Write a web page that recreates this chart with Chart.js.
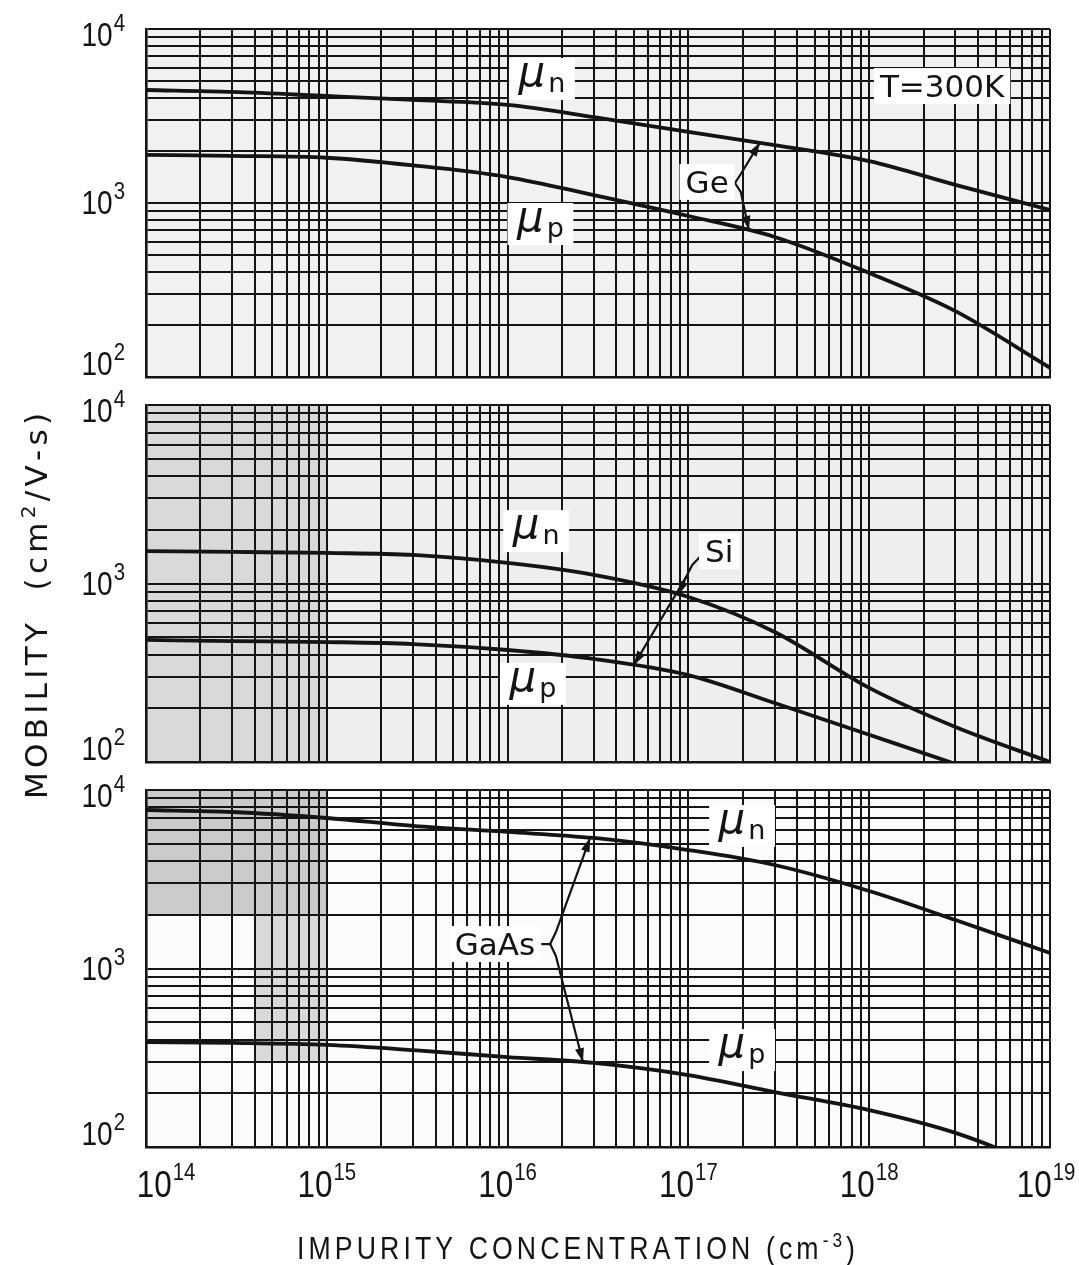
<!DOCTYPE html>
<html>
<head>
<meta charset="utf-8">
<script src="https://cdn.jsdelivr.net/npm/chart.js@4.4.1/dist/chart.umd.min.js"></script>
<style>
html,body{margin:0;padding:0;background:#ffffff;}
#wrap{position:relative;width:1079px;height:1265px;overflow:hidden;background:#ffffff;}
#wrap canvas{position:absolute;left:0;top:0;}
</style>
</head>
<body>
<div id="wrap">
<canvas id="c1" width="1079" height="1265"></canvas>
<canvas id="c2" width="1079" height="1265"></canvas>
<canvas id="c3" width="1079" height="1265"></canvas>
</div>
<script>
// ---------------- DATA ----------------
const concentration = [1e14, 3e14, 1e15, 3e15, 1e16, 3e16, 1e17, 3e17, 1e18, 3e18, 1e19];
const geMuN   = [4460, 4350, 4120, 3910, 3660, 3120, 2560, 2150, 1740, 1270, 912];
const geMuP   = [1890, 1865, 1820, 1645, 1410, 1110, 842, 638, 396, 239, 113];
const siMuN   = [1520, 1502, 1483, 1445, 1303, 1116, 840, 535, 260, 157, 100];
const siMuP   = [483, 476, 470, 458, 424, 378, 307, 214, 142, 97.5, 64];
const gaasMuN = [7727, 7530, 6970, 6290, 5820, 5385, 4610, 3800, 2718, 1870, 1222];
const gaasMuP = [387, 383, 373, 349, 319, 296, 253, 203, 161, 120, 75];

const xTickExponents = [14, 15, 16, 17, 18, 19];
const yTickExponents = [2, 3, 4];
const gridMantissas  = [1, 2, 3, 4, 5, 6, 7, 8, 9];

const yAxisTitle = ['MOBILITY  (cm', '2', '/V-s)'];
const xAxisTitle = ['IMPURITY CONCENTRATION (cm', '-3', ')'];

// annotation anchors (data units)
const geLabels = [
  {kind:'mu', sub:'n', x:1.55e16, y:5160},
  {kind:'mu', sub:'p', x:1.52e16, y:757},
  {kind:'text', text:'Ge', x:1.27e17, y:1322},
  {kind:'text', text:'T=300K', x:2.53e18, y:4700}
];
const geArrows = [
  {pts:[[1.81e17,1303],[1.95e17,1468],[2.49e17,2230]], head:true},
  {pts:[[1.81e17,1303],[1.95e17,1156],[2.16e17,700]], head:true}
];
const siLabels = [
  {kind:'mu', sub:'n', x:1.44e16, y:1966},
  {kind:'mu', sub:'p', x:1.38e16, y:274},
  {kind:'text', text:'Si', x:1.48e17, y:1520}
];
const siArrows = [
  {pts:[[1.17e17,1426],[1.05e17,1270],[9.71e16,1087]], head:false},
  {pts:[[9.71e16,1087],[8.77e16,865]], head:true},
  {pts:[[9.71e16,1087],[5.0e16,350]], head:true}
];
const gaasLabels = [
  {kind:'mu', sub:'n', x:1.98e17, y:6290},
  {kind:'mu', sub:'p', x:1.98e17, y:349},
  {kind:'text', text:'GaAs', x:8.5e15, y:1371}
];
const gaasArrows = [
  {pts:[[1.55e16,1371],[1.72e16,1371]], head:false},
  {pts:[[1.72e16,1371],[1.85e16,1601],[2.86e16,5400]], head:true},
  {pts:[[1.72e16,1371],[1.85e16,1175],[2.61e16,299]], head:true}
];

// ---------------- STYLE / LAYOUT ----------------
const W = 1079, H = 1265;
const PLOT_LEFT = 146, PLOT_RIGHT = 1050;
const TICK_FONT = '"Liberation Sans", Arial, sans-serif';
const LABEL_FONT = '"DejaVu Sans", "Liberation Sans", sans-serif';
const INK = '#141414';
const CONDENSE = 0.85;

function logGrid(exps) {
  const v = [];
  for (let i = 0; i < exps.length - 1; i++) {
    for (const m of gridMantissas) v.push(m * Math.pow(10, exps[i]));
  }
  v.push(Math.pow(10, exps[exps.length - 1]));
  return v;
}
const xGrid = logGrid(xTickExponents);
const yGrid = logGrid(yTickExponents);

function fillCondensed(ctx, text, x, y, sx) {
  ctx.save();
  ctx.translate(x, y);
  ctx.scale(sx, 1);
  ctx.fillText(text, 0, 0);
  ctx.restore();
}

function drawPow(ctx, e, x, y, align, base, sup) {
  ctx.font = base + 'px ' + TICK_FONT;
  const w1 = ctx.measureText('10').width * CONDENSE;
  ctx.font = sup + 'px ' + TICK_FONT;
  const w2 = ctx.measureText(String(e)).width * CONDENSE;
  const left = align === 'right' ? x - w1 - w2 - 1 : x - (w1 + w2 + 1) / 2;
  ctx.fillStyle = INK;
  ctx.textAlign = 'left';
  ctx.textBaseline = 'alphabetic';
  ctx.font = base + 'px ' + TICK_FONT;
  fillCondensed(ctx, '10', left, y, CONDENSE);
  ctx.font = sup + 'px ' + TICK_FONT;
  fillCondensed(ctx, String(e), left + w1 + 1, y - base * 0.45, CONDENSE);
}

// draw segments [{text,font,dy}] spread to a target width, centred at cx
function drawSpaced(ctx, segs, cx, baseline, target, sx) {
  const chars = [];
  for (const s of segs) {
    ctx.font = s.font;
    for (const ch of s.text) chars.push({ch, font:s.font, dy:s.dy || 0, w:ctx.measureText(ch).width * sx});
  }
  const total = chars.reduce((a, c) => a + c.w, 0);
  const gap = chars.length > 1 ? (target - total) / (chars.length - 1) : 0;
  let x = cx - target / 2;
  ctx.textAlign = 'left';
  ctx.textBaseline = 'alphabetic';
  ctx.fillStyle = INK;
  for (const c of chars) {
    ctx.font = c.font;
    fillCondensed(ctx, c.ch, x, baseline + c.dy, sx);
    x += c.w + gap;
  }
}

function arrowHead(ctx, p0, p1) {
  const a = Math.atan2(p1[1] - p0[1], p1[0] - p0[0]);
  const L = 14, Wd = 4.5;
  const c = Math.cos(a), s = Math.sin(a);
  ctx.beginPath();
  ctx.moveTo(p1[0], p1[1]);
  ctx.lineTo(p1[0] - L * c + Wd * s, p1[1] - L * s - Wd * c);
  ctx.lineTo(p1[0] - L * c - Wd * s, p1[1] - L * s + Wd * c);
  ctx.closePath();
  ctx.fill();
}

function drawLabel(ctx, L, cx, cy) {
  ctx.textBaseline = 'alphabetic';
  ctx.textAlign = 'left';
  if (L.kind === 'mu') {
    const fMu = 'italic 42px ' + LABEL_FONT, fSub = '27px ' + LABEL_FONT;
    ctx.font = fMu; const w1 = ctx.measureText('μ').width;
    ctx.font = fSub; const w2 = ctx.measureText(L.sub).width;
    const bw = w1 + w2 + 22, bh = 42;
    ctx.fillStyle = '#ffffff';
    ctx.fillRect(cx - bw / 2, cy - bh / 2, bw, bh);
    const left = cx - (w1 + w2 + 3) / 2;
    ctx.fillStyle = INK;
    ctx.font = fMu; ctx.fillText('μ', left, cy + 7);
    ctx.font = fSub; ctx.fillText(L.sub, left + w1 + 3, cy + 13);
  } else {
    const f = '31px ' + LABEL_FONT;
    ctx.font = f;
    const w = ctx.measureText(L.text).width;
    const bw = w + 12, bh = 36;
    ctx.fillStyle = '#ffffff';
    ctx.fillRect(cx - bw / 2, cy - bh / 2, bw, bh);
    ctx.fillStyle = INK;
    ctx.fillText(L.text, cx - w / 2, cy + 11);
  }
}

function makePlugin(panel) {
  return {
    id: 'decor_' + panel.id,
    beforeDraw(chart) {
      const {ctx, chartArea:a, scales:{x, y}} = chart;
      ctx.save();
      ctx.fillStyle = panel.bg;
      ctx.fillRect(a.left, a.top, a.right - a.left, a.bottom - a.top);
      for (const s of panel.shades) {
        const x0 = x.getPixelForValue(s.x0), x1 = x.getPixelForValue(s.x1);
        const y0 = y.getPixelForValue(s.y1), y1 = y.getPixelForValue(s.y0);
        ctx.fillStyle = s.color;
        ctx.fillRect(x0, y0, x1 - x0, y1 - y0);
      }
      ctx.restore();
    },
    afterDraw(chart) {
      const {ctx, scales:{x, y}} = chart;
      ctx.save();
      ctx.strokeStyle = INK; ctx.fillStyle = INK; ctx.lineWidth = 2.2;
      ctx.lineJoin = 'round'; ctx.lineCap = 'round';
      for (const A of panel.arrows) {
        const pts = A.pts.map(p => [x.getPixelForValue(p[0]), y.getPixelForValue(p[1])]);
        ctx.beginPath();
        ctx.moveTo(pts[0][0], pts[0][1]);
        for (let i = 1; i < pts.length; i++) ctx.lineTo(pts[i][0], pts[i][1]);
        ctx.stroke();
        if (A.head) arrowHead(ctx, pts[pts.length - 2], pts[pts.length - 1]);
      }
      for (const L of panel.labels) {
        drawLabel(ctx, L, x.getPixelForValue(L.x), y.getPixelForValue(L.y));
      }
      yTickExponents.forEach((e, i) => {
        const py = y.getPixelForValue(Math.pow(10, e));
        let base = py + 11;
        if (i === yTickExponents.length - 1) base = py + 17;
        if (i === 0) base = py - 2;
        drawPow(ctx, e, 125, base, 'right', 33, 24);
      });
      if (panel.xLabels) {
        xTickExponents.forEach((e, i) => {
          let px = x.getPixelForValue(Math.pow(10, e));
          if (i === 0) px += 20;
          if (i === xTickExponents.length - 1) px -= 4;
          drawPow(ctx, e, px, 1197, 'center', 37, 24);
        });
        drawSpaced(ctx, [
          {text:xAxisTitle[0], font:'31px ' + TICK_FONT},
          {text:xAxisTitle[1], font:'20px ' + TICK_FONT, dy:-12},
          {text:xAxisTitle[2], font:'31px ' + TICK_FONT}
        ], 576, 1259, 558, 0.86);
      }
      if (panel.yTitle) {
        ctx.translate(35, 606);
        ctx.rotate(-Math.PI / 2);
        drawSpaced(ctx, [
          {text:yAxisTitle[0], font:'31px ' + LABEL_FONT},
          {text:yAxisTitle[1], font:'20px ' + LABEL_FONT, dy:-12},
          {text:yAxisTitle[2], font:'31px ' + LABEL_FONT}
        ], 0, 12, 386, 1);
      }
      ctx.restore();
    }
  };
}

const panels = [
  {id:'c1', top:29, bottom:377, muN:geMuN, muP:geMuP, labels:geLabels, arrows:geArrows,
   bg:'#f1f1f1', shades:[]},
  {id:'c2', top:405, bottom:762, muN:siMuN, muP:siMuP, labels:siLabels, arrows:siArrows,
   bg:'#eeeeee', shades:[{x0:1e14, x1:1e15, y0:100, y1:10000, color:'#d9d9d9'}], yTitle:true},
  {id:'c3', top:790, bottom:1147, muN:gaasMuN, muP:gaasMuP, labels:gaasLabels, arrows:gaasArrows,
   bg:'#fbfbfb', shades:[
     {x0:1e14, x1:1e15, y0:2000, y1:10000, color:'#cbcbcb'},
     {x0:4e14, x1:1e15, y0:300, y1:2000, color:'#d9d9d9'}
   ], xLabels:true}
];

function gridScale(min, max, values) {
  return {
    type:'logarithmic', min, max,
    afterBuildTicks: (s) => { s.ticks = values.map(v => ({value:v})); },
    ticks:{display:false},
    grid:{color:INK, lineWidth:2, drawTicks:false, drawOnChartArea:true},
    border:{display:true, color:INK, width:2.6}
  };
}

for (const p of panels) {
  const mk = (arr) => concentration.map((c, i) => ({x:c, y:arr[i]}));
  new Chart(document.getElementById(p.id), {
    type:'line',
    data:{datasets:[
      {data:mk(p.muN), borderColor:INK, borderWidth:3.8, pointRadius:0, fill:false,
       cubicInterpolationMode:'monotone', clip:0},
      {data:mk(p.muP), borderColor:INK, borderWidth:3.8, pointRadius:0, fill:false,
       cubicInterpolationMode:'monotone', clip:0}
    ]},
    options:{
      responsive:false, animation:false, devicePixelRatio:1, events:[],
      layout:{padding:{left:PLOT_LEFT, right:W - PLOT_RIGHT, top:p.top, bottom:H - p.bottom}},
      plugins:{legend:{display:false}, tooltip:{enabled:false}, title:{display:false}},
      scales:{
        x: gridScale(1e14, 1e19, xGrid),
        y: gridScale(100, 10000, yGrid)
      }
    },
    plugins:[makePlugin(p)]
  });
}
</script>
</body>
</html>
